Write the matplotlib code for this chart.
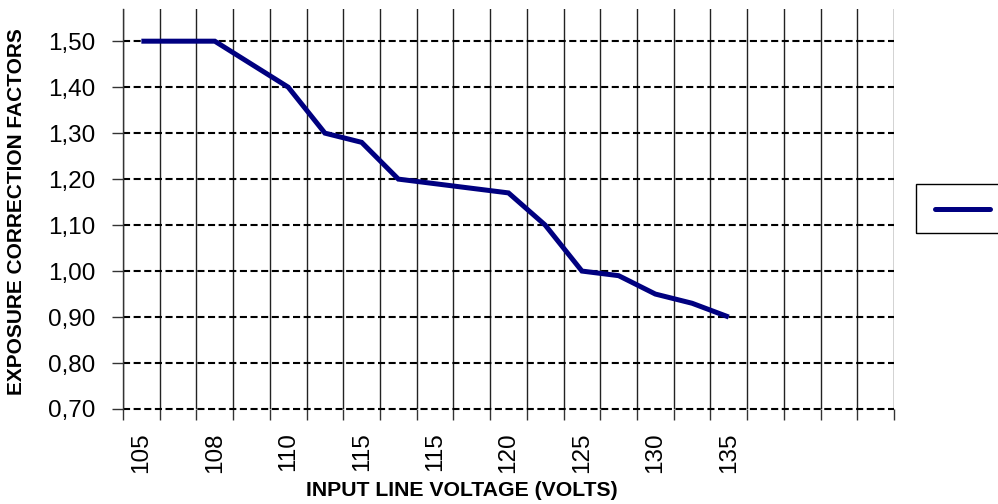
import numpy as np
import matplotlib
matplotlib.use("Agg")
import matplotlib.pyplot as plt
from matplotlib.patches import Rectangle
from matplotlib.lines import Line2D

# data (21 category slots, 17 filled)
n_slots = 21
factors = [1.50, 1.50, 1.50, 1.45, 1.40, 1.30, 1.28, 1.20, 1.19, 1.18,
           1.17, 1.10, 1.00, 0.99, 0.95, 0.93, 0.90]
tick_pos = [0, 2, 4, 6, 8, 10, 12, 14, 16]
tick_text = ["105", "108", "110", "115", "115", "120", "125", "130", "135"]
y_ticks = [0.70, 0.80, 0.90, 1.00, 1.10, 1.20, 1.30, 1.40, 1.50]

plt.rcParams["font.family"] = ["Liberation Sans", "DejaVu Sans"]

fig = plt.figure(figsize=(9.98, 5.04), dpi=100)
ax = fig.add_axes([123 / 998, 1 - 409 / 504, (894 - 123) / 998, (409 - 9) / 504])

line, = ax.plot(np.arange(len(factors)), factors, color="#000080", lw=3.6,
                solid_capstyle="butt", solid_joinstyle="miter", zorder=5)

ax.set_xlim(-0.5, n_slots - 0.5)
ax.set_ylim(0.70, 1.57)

# horizontal dashed gridlines
ax.set_yticks(y_ticks)
ax.set_yticklabels([("%.2f" % v).replace(".", ",") for v in y_ticks], fontsize=17.5)
ax.yaxis.grid(True, color="black", lw=1.5, linestyle=(0, (3.4, 1.7)))

# category boundaries -> vertical gridlines + outward ticks
ax.set_xticks(np.arange(-0.5, n_slots, 1.0), minor=True)
ax.set_xticks(tick_pos)
ax.set_xticklabels(tick_text, rotation=90, fontsize=17.5)
ax.tick_params(axis="x", which="major", length=0, pad=17)
ax.tick_params(axis="x", which="minor", length=8, width=1, color="#333333")
ax.tick_params(axis="y", length=8, width=1, pad=12, color="#333333")
ax.xaxis.grid(True, which="minor", color="#222222", lw=1.0)
ax.xaxis.grid(False, which="major")
ax.set_axisbelow(True)
for gl in ax.get_ygridlines():
    gl.set_clip_on(False)

for s in ["top", "right", "bottom"]:
    ax.spines[s].set_visible(False)
ax.spines["left"].set_color("#333333")
ax.spines["left"].set_linewidth(1.0)

fig.text(0.463, 1 - 490 / 504, "INPUT LINE VOLTAGE (VOLTS)", ha="center", va="center",
         fontsize=15.3, fontweight="bold")
fig.text(17 / 998, 1 - 212 / 504, "EXPOSURE CORRECTION FACTORS", ha="center", va="center",
         rotation=90, fontsize=15, fontweight="bold")

# legend box (runs off the right edge, no label text)
fig.add_artist(Rectangle((916 / 998, 1 - 233 / 504), 100 / 998, 49 / 504,
                         transform=fig.transFigure, fill=False, ec="black", lw=1.0))
fig.add_artist(Line2D([935 / 998, 990 / 998], [1 - 209 / 504, 1 - 209 / 504],
                      transform=fig.transFigure, color=line.get_color(), lw=3.6,
                      solid_capstyle="round"))

fig.savefig("out.png", dpi=100)
